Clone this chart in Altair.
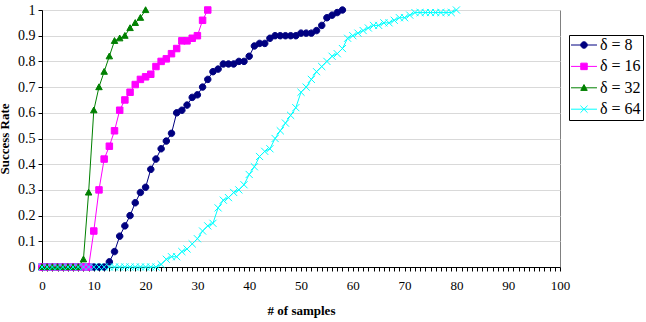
import altair as alt
import pandas as pd

SERIF = "'Liberation Serif', 'Times New Roman', 'DejaVu Serif', serif"

# Series (one per delta) and their Excel-style colours
series_names = ["δ = 8", "δ = 16", "δ = 32", "δ = 64"]
series_colors = ["#000080", "#FF00FF", "#008000", "#00FFFF"]

# Success rate for 0, 1, 2, ... samples
rate_d8 = [0, 0, 0, 0, 0, 0, 0, 0, 0, 0, 0, 0, 0,
           0.02, 0.06, 0.12, 0.16, 0.20, 0.25, 0.29, 0.31,
           0.38, 0.42, 0.46, 0.49, 0.52, 0.60, 0.61, 0.63, 0.66, 0.67,
           0.70, 0.73, 0.76, 0.77, 0.79, 0.79, 0.79, 0.80, 0.80, 0.82,
           0.86, 0.87, 0.87, 0.89, 0.90, 0.90, 0.90, 0.90, 0.90, 0.91,
           0.91, 0.91, 0.92, 0.94, 0.97, 0.98, 0.99, 1.00]
rate_d16 = [0, 0, 0, 0, 0, 0, 0, 0, 0, 0,
            0.14, 0.30, 0.42, 0.47, 0.53, 0.61, 0.65, 0.68, 0.71, 0.73,
            0.74, 0.75, 0.78, 0.80, 0.81, 0.83, 0.85, 0.88, 0.88, 0.89,
            0.90, 0.96, 1.00]
rate_d32 = [0, 0, 0, 0, 0, 0, 0, 0,
            0.03, 0.29, 0.61, 0.70, 0.76, 0.82, 0.88, 0.89, 0.90, 0.93,
            0.95, 0.97, 1.00]
rate_d64 = [0, 0, 0, 0, 0, 0, 0, 0, 0, 0, 0, 0, 0, 0, 0, 0, 0, 0, 0, 0, 0, 0, 0,
            0.01, 0.03, 0.04, 0.04, 0.06, 0.07, 0.09, 0.11,
            0.14, 0.16, 0.17, 0.23, 0.26, 0.27, 0.29, 0.30, 0.32, 0.36,
            0.39, 0.43, 0.45, 0.46, 0.50, 0.53, 0.56, 0.59, 0.62, 0.68,
            0.70, 0.73, 0.76, 0.78, 0.80, 0.82, 0.83, 0.85, 0.89, 0.90,
            0.91, 0.92, 0.93, 0.94, 0.94, 0.95, 0.95, 0.96, 0.97, 0.97,
            0.98, 0.99, 0.99, 0.99, 0.99, 0.99, 0.99, 0.99, 0.99, 1.00]

x_ticks = list(range(0, 101))
y_ticks = [0, 0.1, 0.2, 0.3, 0.4, 0.5, 0.6, 0.7, 0.8, 0.9, 1]

rows = []
for name, rates in zip(series_names, [rate_d8, rate_d16, rate_d32, rate_d64]):
    for n, r in enumerate(rates):
        rows.append({"samples": n, "rate": r, "series": name})
df = pd.DataFrame(rows)


def marker_paths(k, cx=0.0):
    """Dot, square, triangle and "x" outlines of half-width k, centred on cx."""
    return [
        f"M{cx - k},0A{k},{k},0,1,1,{cx + k},0A{k},{k},0,1,1,{cx - k},0Z",
        f"M{cx - k},{-k}H{cx + k}V{k}H{cx - k}Z",
        f"M{cx},{-k}L{cx + k},{0.8 * k}L{cx - k},{0.8 * k}Z",
        f"M{cx - 1.1 * k},{-1.1 * k}L{cx + 1.1 * k},{1.1 * k}"
        f"M{cx - 1.1 * k},{1.1 * k}L{cx + 1.1 * k},{-1.1 * k}",
    ]


# Plot markers, and legend swatches made of a short line with the marker on it
marker_shapes = marker_paths(1)
legend_shapes = ["M-1.14,0H2.57" + p for p in marker_paths(0.463, cx=0.714)]

color_scale = alt.Scale(domain=series_names, range=series_colors)

x_enc = alt.X(
    "samples:Q",
    scale=alt.Scale(domain=[0, 100], nice=False, zero=False),
    axis=alt.Axis(
        values=x_ticks,
        labelExpr="datum.value % 10 === 0 ? datum.label : ''",
        labelOverlap=False,
        labelFlush=False,
        grid=False,
        tickSize=4,
        tickColor="black",
        domainColor="black",
        labelFont=SERIF,
        labelFontSize=13,
        labelColor="black",
        labelPadding=8,
        title="# of samples",
        titleFont=SERIF,
        titleFontSize=13,
        titleFontWeight="bold",
        titleColor="black",
        titleX=259,
        titleY=47,
        titleBaseline="alphabetic",
        titleAlign="center",
    ),
)

y_enc = alt.Y(
    "rate:Q",
    scale=alt.Scale(domain=[0, 1], nice=False),
    axis=alt.Axis(
        values=y_ticks,
        format="~g",
        labelFlush=False,
        grid=True,
        gridColor="#d9d9d9",
        tickSize=4,
        tickColor="black",
        domainColor="black",
        labelFont=SERIF,
        labelFontSize=14,
        labelColor="black",
        labelPadding=3,
        title="Success Rate",
        titleFont=SERIF,
        titleFontSize=13,
        titleFontWeight="bold",
        titleColor="black",
        titleX=-34,
        titleY=128.5,
        titleAngle=270,
        titleBaseline="alphabetic",
        titleAlign="center",
    ),
)

legend = alt.Legend(
    orient="none",
    legendX=527,
    legendY=25,
    title=None,
    strokeColor="black",
    padding=2,
    rowPadding=5.4,
    gridAlign="all",
    symbolSize=196,
    symbolStrokeWidth=1,
    labelFont=SERIF,
    labelFontSize=16,
    labelColor="black",
    labelOffset=13,
)

lines = alt.Chart(df).mark_line(strokeWidth=1).encode(
    x=x_enc,
    y=y_enc,
    color=alt.Color("series:N", scale=color_scale, legend=None),
)

points = alt.Chart(df).mark_point(filled=True, opacity=1, strokeWidth=1, size=42).encode(
    x=x_enc,
    y=y_enc,
    fill=alt.Fill("series:N", scale=color_scale, legend=None),
    stroke=alt.Stroke("series:N", scale=color_scale, legend=None),
    shape=alt.Shape("series:N", scale=alt.Scale(domain=series_names, range=marker_shapes), legend=None),
)

# Legend carrier: no rows reach the plot, only its scales feed the legend
key = alt.Chart(df).transform_filter("false").mark_point(filled=True, opacity=1, strokeWidth=1).encode(
    fill=alt.Fill("series:N", scale=color_scale, legend=legend),
    stroke=alt.Stroke("series:N", scale=color_scale, legend=legend),
    shape=alt.Shape("series:N", scale=alt.Scale(domain=series_names, range=legend_shapes), legend=legend),
)

chart = alt.layer(lines, points, key).resolve_scale(
    fill="independent", stroke="independent", shape="independent"
).properties(
    width=518,
    height=257,
    autosize="none",
    padding={"left": 42, "top": 10, "right": 86, "bottom": 55},
    background="white",
).configure_view(stroke="#808080", strokeWidth=1)

chart.save("out.html", embed_options={"renderer": "svg", "actions": False})
